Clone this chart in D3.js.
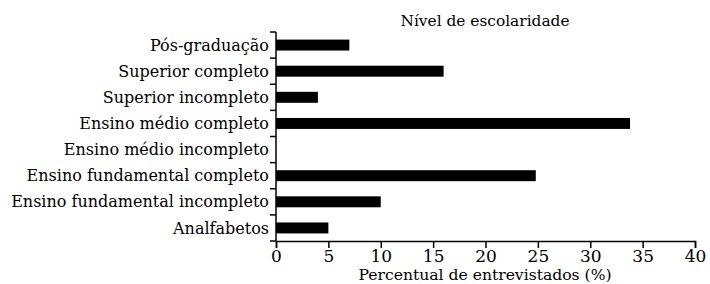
<!DOCTYPE html>
<html>
<head>
<meta charset="utf-8">
<script src="https://cdn.jsdelivr.net/npm/d3@7"></script>
<style>
  body { margin: 0; background: #fff; }
  svg text { font-family: "DejaVu Serif", serif; fill: #000; }
</style>
</head>
<body>
<div id="chart"></div>
<script>
var categories = [
    'Pós-graduação',
    'Superior completo',
    'Superior incompleto',
    'Ensino médio completo',
    'Ensino médio incompleto',
    'Ensino fundamental completo',
    'Ensino fundamental incompleto',
    'Analfabetos'
];
var values = [7, 16, 4, 33.8, 0, 24.8, 10, 5];
var xTicks = [0, 5, 10, 15, 20, 25, 30, 35, 40];

var width = 710, height = 284;
var margin = { top: 32, right: 15, bottom: 43, left: 276 };

var svg = d3.select('#chart')
    .append('svg')
    .attr('width', width)
    .attr('height', height);

var data = categories.map((c, i) => ({ name: c, value: values[i] }));

var x = d3.scaleLinear()
    .domain([0, 40])
    .range([margin.left, width - margin.right]);

var y = d3.scaleBand()
    .domain(categories)
    .range([margin.top, height - margin.bottom])
    .paddingInner(0.58)
    .paddingOuter(0.29);

// bars
svg.selectAll('rect.bar')
    .data(data)
    .enter()
    .append('rect')
    .attr('class', 'bar')
    .attr('x', x(0))
    .attr('y', d => y(d.name))
    .attr('width', d => x(d.value) - x(0))
    .attr('height', y.bandwidth())
    .style('fill', '#000');

// y axis, ticks sit between the categories
var yEdges = d3.scaleLinear()
    .domain([0, categories.length])
    .range([margin.top, height - margin.bottom]);

var yAxisG = svg.append('g')
    .attr('transform', `translate(${margin.left},0)`);

yAxisG.append('line')
    .attr('x1', 0).attr('x2', 0)
    .attr('y1', yEdges(0)).attr('y2', yEdges(categories.length))
    .attr('stroke', '#000').attr('stroke-width', 1.5);

yAxisG.selectAll('line.tick')
    .data(d3.range(categories.length + 1))
    .enter()
    .append('line')
    .attr('class', 'tick')
    .attr('x1', -6).attr('x2', 0)
    .attr('y1', d => yEdges(d)).attr('y2', d => yEdges(d))
    .attr('stroke', '#000').attr('stroke-width', 1.5);

yAxisG.selectAll('text.cat')
    .data(categories)
    .enter()
    .append('text')
    .attr('class', 'cat')
    .attr('x', -7)
    .attr('y', d => y(d) + y.bandwidth() / 2)
    .attr('dy', '0.35em')
    .attr('text-anchor', 'end')
    .style('font-size', '16px')
    .text(d => d);

// x axis
var xAxis = d3.axisBottom(x)
    .tickValues(xTicks)
    .tickSize(7)
    .tickPadding(2)
    .tickFormat(d3.format('d'));

var xAxisG = svg.append('g')
    .attr('transform', `translate(0,${height - margin.bottom})`)
    .call(xAxis);

xAxisG.select('.domain').attr('stroke', '#000').attr('stroke-width', 1.5);
xAxisG.selectAll('.tick line').attr('stroke', '#000').attr('stroke-width', 1.5);
xAxisG.selectAll('.tick text')
    .style('font-family', '"DejaVu Serif", serif')
    .style('font-size', '17px')
    .attr('fill', '#000');

svg.append('text')
    .attr('x', 485)
    .attr('y', 280)
    .attr('text-anchor', 'middle')
    .style('font-size', '15.6px')
    .text('Percentual de entrevistados (%)');

svg.append('text')
    .attr('x', 485)
    .attr('y', 26)
    .attr('text-anchor', 'middle')
    .style('font-size', '15.4px')
    .text('Nível de escolaridade');
</script>
</body>
</html>
